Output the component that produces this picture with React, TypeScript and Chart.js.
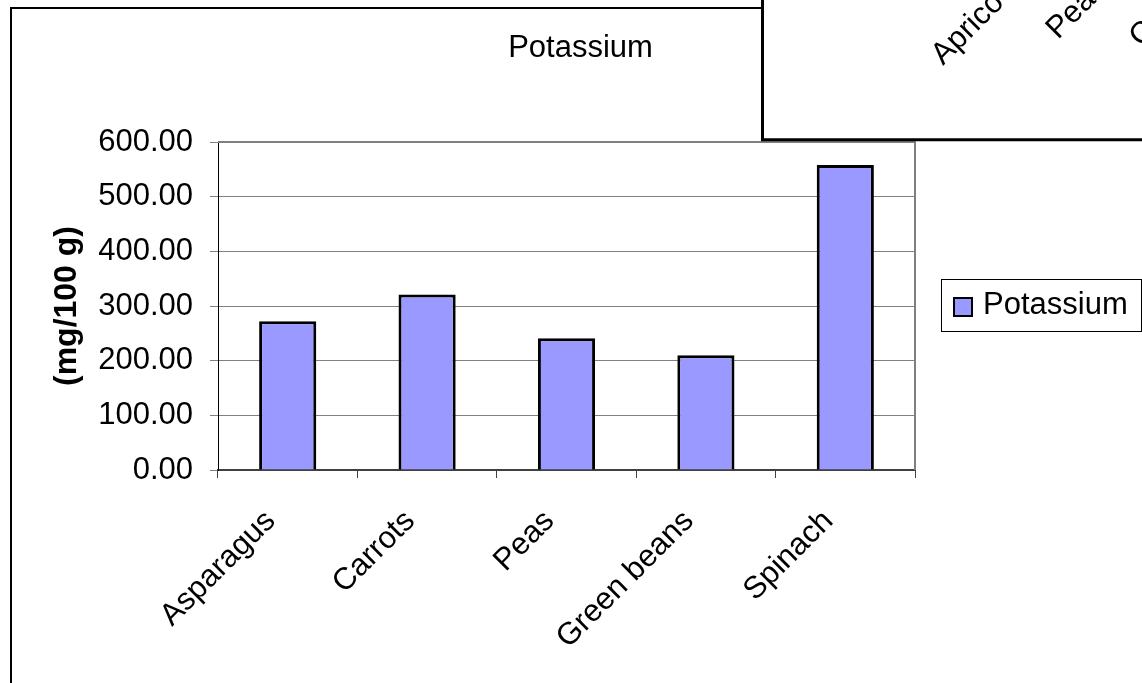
import React, { useEffect, useRef } from 'react';
import { Chart, registerables } from 'chart.js';

Chart.register(...registerables);

const categories = ['Asparagus', 'Carrots', 'Peas', 'Green beans', 'Spinach'];
const potassium = [272, 321, 241, 210, 558];
const yMin = 0;
const yMax = 600;
const yStep = 100;
const seriesName = 'Potassium';
const chartTitle = 'Potassium';
const yAxisTitle = '(mg/100 g)';
const otherChartLabels = ['Aprico', 'Pea', 'C'];

const FONT = '"Liberation Sans", Arial, Helvetica, sans-serif';
const BAR_FILL = '#9999FF';

const decorPlugin = {
  id: 'decor',
  afterDraw(chart: any) {
    const ctx = chart.ctx as CanvasRenderingContext2D;
    const { left, right, top, bottom } = chart.chartArea;
    ctx.save();

    // plot area frame (top & right)
    ctx.strokeStyle = '#808080';
    ctx.lineWidth = 2;
    ctx.beginPath();
    ctx.moveTo(left, top);
    ctx.lineTo(right, top);
    ctx.lineTo(right, bottom);
    ctx.stroke();

    // outer chart border
    ctx.strokeStyle = '#000';
    ctx.lineWidth = 2;
    ctx.beginPath();
    ctx.moveTo(11, 720);
    ctx.lineTo(11, 8);
    ctx.lineTo(1200, 8);
    ctx.stroke();

    // title
    ctx.fillStyle = '#000';
    ctx.font = `31px ${FONT}`;
    ctx.textAlign = 'center';
    ctx.textBaseline = 'alphabetic';
    ctx.fillText(chartTitle, 580.5, 57);

    // overlapping window of another chart
    ctx.fillStyle = '#fff';
    ctx.fillRect(763, -10, 420, 149.8);
    ctx.strokeStyle = '#000';
    ctx.lineWidth = 3;
    ctx.beginPath();
    ctx.moveTo(762.5, -10);
    ctx.lineTo(762.5, 139.8);
    ctx.lineTo(1200, 139.8);
    ctx.stroke();

    const fragPos = [
      [943, 66],
      [1058, 40],
      [1141, 48],
    ];
    ctx.fillStyle = '#000';
    ctx.font = `31px ${FONT}`;
    ctx.textAlign = 'left';
    otherChartLabels.forEach((t, i) => {
      ctx.save();
      ctx.translate(fragPos[i][0], fragPos[i][1]);
      ctx.rotate(-Math.PI / 4);
      ctx.fillText(t, 0, 0);
      ctx.restore();
    });

    // legend
    ctx.strokeStyle = '#000';
    ctx.lineWidth = 1;
    ctx.strokeRect(941.5, 279.5, 200, 52);
    ctx.fillStyle = BAR_FILL;
    ctx.fillRect(954, 298, 18, 18);
    ctx.lineWidth = 2;
    ctx.strokeRect(954, 298, 18, 18);
    ctx.fillStyle = '#000';
    ctx.font = `31px ${FONT}`;
    ctx.textAlign = 'left';
    ctx.fillText(seriesName, 983, 314);

    ctx.restore();
  },
};

export default function App() {
  const ref = useRef<HTMLCanvasElement | null>(null);

  useEffect(() => {
    if (!ref.current) return;
    const chart = new Chart(ref.current, {
      type: 'bar',
      data: {
        labels: categories,
        datasets: [
          {
            label: seriesName,
            data: potassium,
            backgroundColor: BAR_FILL,
            borderColor: '#000',
            borderWidth: 3,
            barPercentage: 0.41,
            categoryPercentage: 1,
          },
        ],
      },
      options: {
        responsive: false,
        animation: false,
        layout: { padding: { left: 48, top: 142, right: 227, bottom: 0 } },
        plugins: {
          legend: { display: false },
          title: { display: false },
          tooltip: { enabled: false },
        },
        scales: {
          x: {
            offset: true,
            ticks: {
              color: '#000',
              font: { family: FONT, size: 31 },
              minRotation: 45,
              maxRotation: 45,
              autoSkip: false,
              padding: 25,
              labelOffset: -17,
            },
            grid: {
              drawOnChartArea: false,
              drawTicks: true,
              tickLength: 8,
              color: '#404040',
              offset: true,
            },
            border: { color: '#404040', width: 2 },
            afterFit: (s: any) => {
              s.height = 213;
            },
          },
          y: {
            min: yMin,
            max: yMax,
            ticks: {
              stepSize: yStep,
              color: '#000',
              font: { family: FONT, size: 31 },
              padding: 17,
              callback: (v: any) => Number(v).toFixed(2),
            },
            grid: { color: '#808080', tickLength: 8, lineWidth: 1 },
            border: { color: '#000', width: 1 },
            title: {
              display: true,
              text: yAxisTitle,
              color: '#000',
              font: { family: FONT, size: 32, weight: 'bold' },
              padding: 0,
            },
            afterFit: (s: any) => {
              s.width = 170;
            },
          },
        },
      },
      plugins: [decorPlugin],
    });
    return () => chart.destroy();
  }, []);

  return (
    <div style={{ position: 'fixed', left: 0, top: 0, width: 1142, height: 683, background: '#fff' }}>
      <canvas ref={ref} width={1142} height={683} style={{ display: 'block' }} />
    </div>
  );
}
